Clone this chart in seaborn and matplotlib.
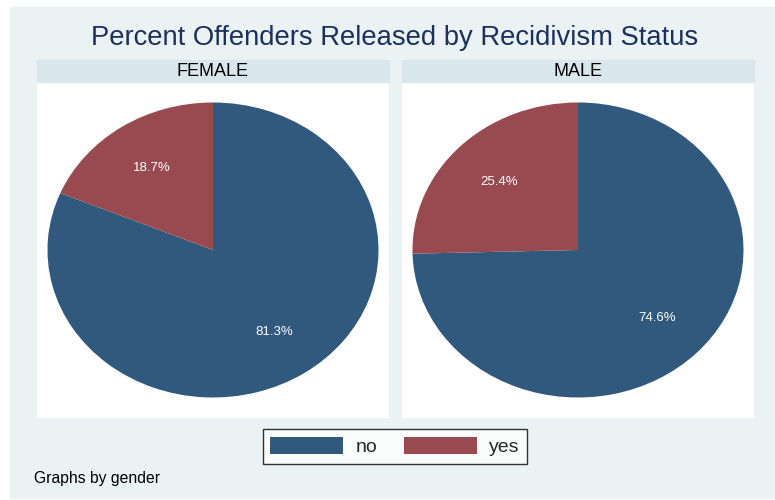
import seaborn as sns
import matplotlib.pyplot as plt
from matplotlib.patches import Rectangle, Patch

# Data
panels = ["FEMALE", "MALE"]
status = ["no", "yes"]
female_pct = [81.3, 18.7]
male_pct = [74.6, 25.4]

sns.set_theme(style="white")
plt.rcParams["font.family"] = ["Liberation Sans", "DejaVu Sans"]

colors = ["#31597D", "#994A50"]
W, H = 775, 500


def fx(px):
    return px / W


def fy(py):
    return 1 - py / H


fig = plt.figure(figsize=(7.75, 5), dpi=100, facecolor="white")

# outer light background
fig.add_artist(Rectangle((fx(10), fy(498)), fx(765), 491 / H,
                         transform=fig.transFigure, color="#EAF2F3", zorder=0))

fig.text(fx(395), fy(38), "Percent Offenders Released by Recidivism Status",
         ha="center", va="center", fontsize=19.7, color="#1C2F5E")

panel_x = [(37, 389), (402, 754)]
values = [female_pct, male_pct]

for (x0, x1), name, vals in zip(panel_x, panels, values):
    # strip
    fig.add_artist(Rectangle((fx(x0), fy(82)), fx(x1 - x0), 22 / H,
                             transform=fig.transFigure, color="#D9E6EC", zorder=1))
    fig.text(fx((x0 + x1) / 2), fy(71), name, ha="center", va="center",
             fontsize=13, color="black")
    ax = fig.add_axes([fx(x0), fy(418), fx(x1 - x0), 336 / H])
    ax.set_facecolor("white")
    wedges, texts, autotexts = ax.pie(
        vals, colors=colors, startangle=90, counterclock=False,
        autopct="%.1f%%", pctdistance=0.665,
        wedgeprops=dict(linewidth=0),
        textprops=dict(color="white", fontsize=9.5))
    ax.set_aspect("auto")
    w = x1 - x0
    ax.set_xlim(-w / (2 * 165.5), w / (2 * 165.5))
    ax.set_ylim(-336 / (2 * 147.5), 336 / (2 * 147.5))
    ax.set_frame_on(True)
    for s in ax.spines.values():
        s.set_visible(False)
    ax.patch.set_visible(True)

handles = [Patch(facecolor=c, edgecolor="none") for c in colors]
leg = fig.legend(handles, status, loc="center", ncol=2,
                 bbox_to_anchor=(fx(395), fy(446.5)), fontsize=14,
                 frameon=True, fancybox=False, edgecolor="black",
                 handlelength=3.75, handleheight=0.93, handletextpad=0.62,
                 columnspacing=1.39, borderpad=0.4, borderaxespad=0)
leg.get_frame().set_linewidth(1.0)
leg.get_frame().set_facecolor("white")

fig.text(fx(34), fy(478), "Graphs by gender", ha="left", va="center",
         fontsize=11.3, color="black")

plt.savefig("out.png", dpi=100, facecolor="white")
